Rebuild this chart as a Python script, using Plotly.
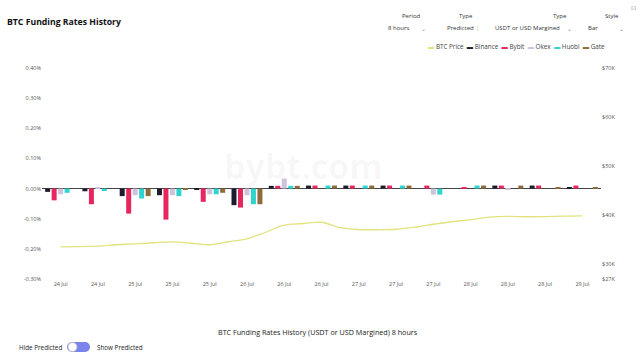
import plotly.graph_objects as go

# ---- data ----
tick_labels = ["24 Jul", "24 Jul", "25 Jul", "25 Jul", "25 Jul", "26 Jul", "26 Jul", "26 Jul",
               "27 Jul", "27 Jul", "27 Jul", "28 Jul", "28 Jul", "28 Jul", "29 Jul"]
periods = list(range(len(tick_labels)))

binance = [-0.011, -0.009, -0.025, -0.022, -0.003, -0.055, 0.009, 0.010, 0.010, 0.010, 0.000, 0.000, 0.010, 0.010, 0.002]
bybit   = [-0.039, -0.052, -0.083, -0.103, -0.044, -0.063, 0.009, 0.010, 0.010, 0.010, 0.010, 0.003, 0.010, 0.010, 0.010]
okex    = [-0.019, 0.005, -0.022, -0.022, -0.019, -0.022, 0.033, 0.000, 0.000, 0.000, -0.020, 0.000, -0.005, 0.000, 0.000]
huobi   = [-0.014, -0.008, -0.033, -0.025, -0.019, -0.052, 0.009, 0.010, 0.010, 0.010, -0.020, 0.010, 0.000, 0.000, 0.000]
gate    = [0.000, 0.000, -0.025, -0.003, -0.014, -0.052, 0.009, 0.010, 0.010, 0.010, 0.000, 0.010, 0.010, 0.005, 0.005]

price_x = [0, 0.5, 1, 1.5, 2, 2.5, 3, 3.5, 4, 4.5, 5, 5.5, 6, 6.5, 7, 7.5, 8, 8.5, 9, 9.5,
           10, 10.5, 11, 11.5, 12, 12.5, 13, 13.5, 14]
btc_price = [33530, 33610, 33700, 33980, 34160, 34390, 34550, 34290, 33980, 34590, 35200, 36530,
             37960, 38310, 38570, 37450, 37080, 37040, 37140, 37550, 38160, 38670, 39080, 39590,
             39760, 39690, 39710, 39800, 39860]

exchanges = ["Binance", "Bybit", "Okex", "Huobi", "Gate"]
series = [binance, bybit, okex, huobi, gate]
colors = ["#1c1c2c", "#e8265e", "#cdc3de", "#2fd3cf", "#8d6b3b"]
price_color = "#e2e27e"

left_ticks = [-0.3, -0.2, -0.1, 0.0, 0.1, 0.2, 0.3, 0.4]
left_labels = ["-0.30%", "-0.20%", "-0.10%", "0.00%", "0.10%", "0.20%", "0.30%", "0.40%"]
right_ticks = [27000, 30000, 40000, 50000, 60000, 70000]
right_labels = ["$27K", "$30K", "$40K", "$50K", "$60K", "$70K"]

# ---- layout helpers (pixel -> paper) ----
L, R, T, B = 42, 601, 68, 279
def px(x):
    return (x - L) / (R - L)
def py(y):
    return (B - y) / (B - T)

fig = go.Figure()
for name, vals, col in zip(exchanges, series, colors):
    fig.add_trace(go.Bar(x=periods, y=vals, name=name, marker_color=col,
                         marker_line_width=0, yaxis="y"))
fig.add_trace(go.Scatter(x=price_x, y=btc_price, name="BTC Price", mode="lines",
                         line=dict(color=price_color, width=1.3, shape="spline", smoothing=1),
                         yaxis="y2"))

font = "Open Sans, Roboto, sans-serif"
ann = []
def text(x, y, t, size=6, color="#333", xanchor="center", bold=False):
    ann.append(dict(x=px(x), y=py(y), xref="paper", yref="paper", text=("<b>%s</b>" % t) if bold else t,
                    showarrow=False, xanchor=xanchor, yanchor="middle",
                    font=dict(size=size, color=color, family=font)))

# watermark
ann.append(dict(x=px(303), y=py(166), xref="paper", yref="paper", text="<b>bybt.com</b>",
                showarrow=False, font=dict(size=34, color="rgba(0,0,0,0.035)", family=font)))

text(5, 22, "BTC Funding Rates History", size=8.7, color="#111", xanchor="left", bold=True)
# controls
text(411, 16, "Period", 6); text(398, 28, "8 hours", 6); text(423, 29, "⌄", 6, "#888")
text(466, 16, "Type", 6); text(460, 28, "Predicted", 6); text(477, 28, "¦", 6, "#aaa")
text(560, 16, "Type", 6); text(527, 28, "USDT or USD Margined", 6); text(569, 29, "⌄", 6, "#888")
text(612, 16, "Style", 6); text(593, 28, "Bar", 6); text(621, 29, "⌄", 6, "#888")
text(633, 8, "⊡", 6, "#999")

# legend
legend_items = [("BTC Price", price_color)] + list(zip(exchanges, colors))
leg = "  ".join('<span style="color:%s">▬</span> %s' % (c, n) for n, c in legend_items)
text(607, 46, leg, 6.3, "#444", xanchor="right")

# bottom
text(318, 332, "BTC Funding Rates History (USDT or USD Margined) 8 hours", 7.2, "#222")
text(17, 347, "Hide Predicted", 6.3, "#222", xanchor="left")
text(95, 347, "Show Predicted", 6.3, "#222", xanchor="left")

shapes = [
    dict(type="rect", xref="paper", yref="paper", x0=px(72), x1=px(86), y0=py(352), y1=py(342),
         fillcolor="#7b84ec", line=dict(width=0)),
    dict(type="circle", xref="paper", yref="paper", x0=px(67), x1=px(77), y0=py(352), y1=py(342),
         fillcolor="#7b84ec", line=dict(width=0)),
    dict(type="circle", xref="paper", yref="paper", x0=px(80), x1=px(90), y0=py(352), y1=py(342),
         fillcolor="#7b84ec", line=dict(width=0)),
    dict(type="circle", xref="paper", yref="paper", x0=px(68), x1=px(77), y0=py(351.5), y1=py(342.5),
         fillcolor="white", line=dict(width=0.8, color="#bbb")),
]

fig.update_layout(
    width=640, height=360,
    margin=dict(l=L, r=640 - R, t=T, b=360 - B),
    paper_bgcolor="white", plot_bgcolor="white",
    showlegend=False,
    barmode="group", bargap=0.13, bargroupgap=0.23,
    font=dict(family=font, size=6, color="#555"),
    xaxis=dict(range=[-0.5, 14.5], tickvals=periods, ticktext=tick_labels, showgrid=False,
               zeroline=False, showline=False, ticks="", tickfont=dict(size=5.5, color="#555")),
    yaxis=dict(range=[-0.3, 0.4], tickvals=left_ticks, ticktext=left_labels,
               showgrid=False, zeroline=True, zerolinecolor="#444", zerolinewidth=1,
               showline=False, ticks="", tickfont=dict(size=5.5, color="#555")),
    yaxis2=dict(range=[27000, 70000], tickvals=right_ticks, ticktext=right_labels, overlaying="y",
                side="right", showgrid=False, zeroline=False, showline=False, ticks="",
                tickfont=dict(size=5.5, color="#555")),
    annotations=ann,
    shapes=shapes,
)

fig.write_html("out.html", config={"displayModeBar": False},
               post_script="document.body.style.margin='0';document.body.style.overflow='hidden';")
